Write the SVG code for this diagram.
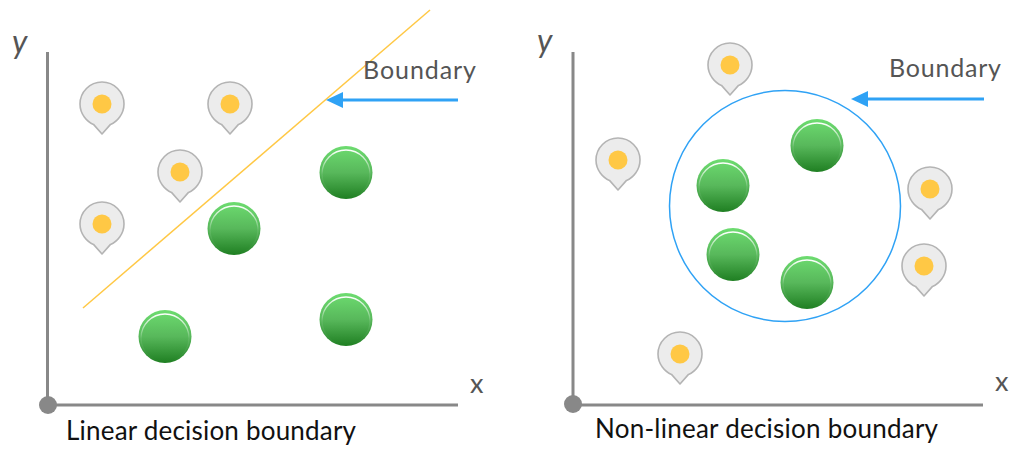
<svg xmlns="http://www.w3.org/2000/svg" width="1011" height="449" viewBox="0 0 1011 449">
<defs>
<linearGradient id="g" x1="0" y1="0" x2="0" y2="1"><stop offset="0" stop-color="#6ddc70"/><stop offset="0.5" stop-color="#58b85b"/><stop offset="1" stop-color="#1f7f22"/></linearGradient>
<linearGradient id="hl" x1="0" y1="0" x2="0" y2="1"><stop offset="0" stop-color="#fff"/><stop offset="0.5" stop-color="#fff" stop-opacity="0.1"/><stop offset="1" stop-color="#fff" stop-opacity="0"/></linearGradient>
<marker id="ah" markerUnits="userSpaceOnUse" markerWidth="17" markerHeight="16" refX="0" refY="8" orient="auto"><path d="M0 0L17 8L0 16Z" fill="#2fa2f5"/></marker>
<g id="pin"><path d="M-8.500 20.400C-15 18 -22 10 -22 0A22 22 0 0 1 22 0C22 10 15 18 8.500 20.400L0 30Z" fill="#ececec" stroke="#b4b4b4" stroke-width="1.6" stroke-linejoin="round"/><circle r="9.500" fill="#ffc845"/></g>
<g id="ball"><circle r="26.500" fill="url(#g)"/><circle cy="1.500" r="24" fill="none" stroke="url(#hl)" stroke-width="1.300"/></g>
</defs>
<style>
text{font-family:"Lato","Open Sans",sans-serif;fill:#555}
.axis{stroke:#888;stroke-width:3;fill:none}
.lbl{font-size:25px}
.cap{font-size:26px;fill:#111}
.ax{font-size:27px}
.ay{font-size:32px;font-style:italic}
</style>
<g id="connectors">
<path class="axis" d="M47.500 52V405H458"/>
<path class="axis" d="M573 52V405H983"/>
<path d="M83 308L430 10" fill="none" stroke="#ffc845" stroke-width="1.500"/>
<path d="M458 100H343" stroke="#2fa2f5" stroke-width="3" fill="none" marker-end="url(#ah)"/>
<path d="M984 99H868" stroke="#2fa2f5" stroke-width="3" fill="none" marker-end="url(#ah)"/>
<circle cx="785" cy="206" r="115.500" fill="none" stroke="#2fa2f5" stroke-width="1.500"/>
<circle cx="48" cy="405" r="9" fill="#888"/>
<circle cx="573" cy="404" r="9" fill="#888"/>
</g>
<g id="left-points">
<use href="#pin" x="102" y="104"/><use href="#pin" x="230" y="104"/><use href="#pin" x="180" y="172"/><use href="#pin" x="102" y="224"/>
<use href="#ball" x="346" y="172.500"/><use href="#ball" x="234" y="228.500"/><use href="#ball" x="165" y="336.500"/><use href="#ball" x="346" y="319.500"/>
</g>
<g id="right-points">
<use href="#pin" x="730" y="65"/><use href="#pin" x="618" y="160"/><use href="#pin" x="930" y="189"/><use href="#pin" x="924" y="266"/><use href="#pin" x="680" y="354"/>
<use href="#ball" x="817" y="145.500"/><use href="#ball" x="723" y="185.500"/><use href="#ball" x="733" y="254.500"/><use href="#ball" x="807" y="282.500"/>
</g>
<g id="labels">
<text class="ay" x="12" y="53">y</text>
<text class="ay" x="537" y="52">y</text>
<text class="ax" x="470" y="393">x</text>
<text class="ax" x="995" y="391">x</text>
<text class="lbl" x="363" y="79" textLength="113">Boundary</text>
<text class="lbl" x="889" y="77" textLength="112">Boundary</text>
<text class="cap" x="66" y="440" textLength="290">Linear decision boundary</text>
<text class="cap" x="595" y="438" textLength="343">Non-linear decision boundary</text>
</g>
</svg>
